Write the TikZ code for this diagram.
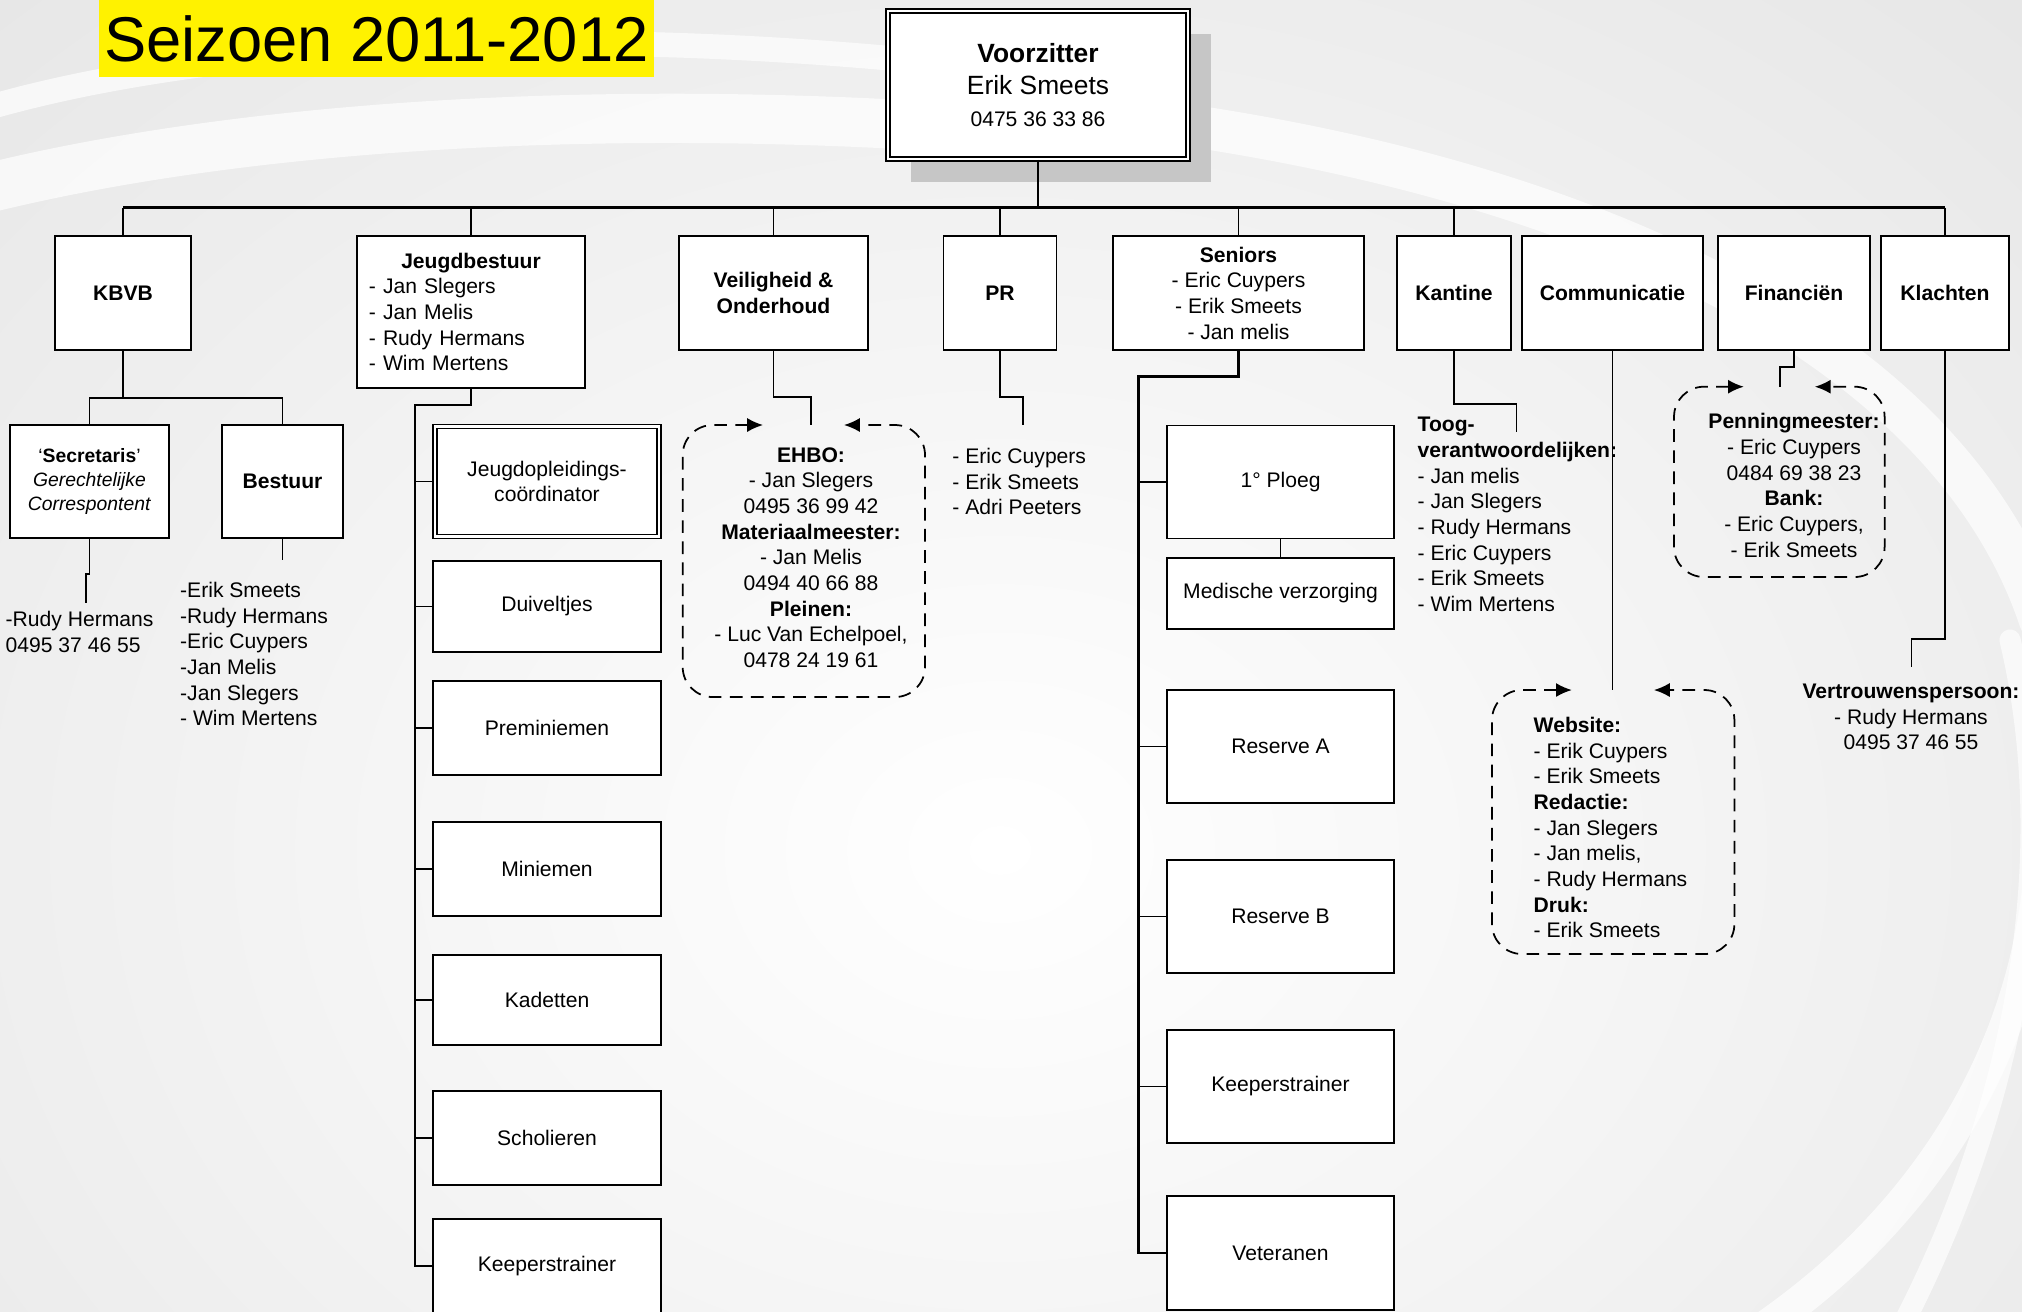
\documentclass[tikz,border=0pt]{standalone}
\usepackage{fontspec}
\setmainfont{Liberation Sans}
\usetikzlibrary{arrows.meta,shadows}
\definecolor{bggray}{HTML}{E0E0E0}
\definecolor{shadowgray}{HTML}{C6C6C6}

\begin{document}
\begin{tikzpicture}[x=0.01cm,y=-0.01cm,
  font=\fontsize{6}{7.3}\selectfont,
  box/.style={draw,fill=white,line width=0.5pt,inner sep=0pt,align=center},
  dblbox/.style={box,double,double distance=0.75pt,line width=0.45pt},
  head/.style={box,minimum height=1.14cm,font=\fontsize{6}{7.3}\selectfont\bfseries},
  conn/.style={line width=0.4pt},
  trunk/.style={line width=0.75pt},
  txt/.style={inner sep=0pt},
  dashloop/.style={line width=0.5pt,dash pattern=on 3.6pt off 2.4pt,rounded corners=0.3cm,
    {Latex[length=4.5pt,width=4pt]}-{Latex[length=4.5pt,width=4pt]}},
  swoosh/.style={white,opacity=0.7,line cap=round}]
\useasboundingbox (0,0) rectangle (2022,1311);
\clip (0,0) rectangle (2022,1311);

\fill[bggray] (0,0) rectangle (2022,1311);
\shade[inner color=white,outer color=bggray] (1000,850) ellipse (19cm and 15cm);
\draw[swoosh,line width=7pt] (-20,110) .. controls (250,30) and (700,20) .. (1150,90);
\draw[swoosh,line width=14pt] (-20,190) .. controls (300,110) and (750,100) .. (1150,145);
\draw[swoosh,line width=12pt] (1150,120) .. controls (1600,180) and (1950,350) .. (2040,620);
\draw[swoosh,line width=9pt] (2040,760) .. controls (2060,1000) and (1950,1200) .. (1760,1330);
\draw[swoosh,line width=6pt] (2010,640) .. controls (2060,850) and (2020,1100) .. (1900,1330);

\node[fill=yellow,inner sep=0pt,minimum width=5.55cm,minimum height=0.77cm,
  font=\fontsize{18}{18}\selectfont] (titel) at (376.5,38.7) {Seizoen 2011-2012};

\node[dblbox,minimum width=3cm,minimum height=1.48cm,font=\fontsize{7.5}{9}\selectfont,
  drop shadow={shadow xshift=0.23cm,shadow yshift=-0.23cm,fill=shadowgray,opacity=1}]
  (vz) at (1038,85) {\textbf{Voorzitter}\\Erik Smeets\\{\fontsize{6}{7.3}\selectfont 0475 36 33 86}};

\node[head,minimum width=1.36cm] (kbvb) at (123,293) {KBVB};
\node[box,minimum width=2.28cm,minimum height=1.52cm,text width=2.04cm,align=left] (jb) at (471,312)
  {\makebox[2.04cm][c]{\textbf{Jeugdbestuur}}\\- Jan Slegers\\- Jan Melis\\- Rudy Hermans\\- Wim Mertens};
\node[head,minimum width=1.89cm] (veil) at (773.5,293) {Veiligheid \&\\Onderhoud};
\node[head,minimum width=1.13cm] (pr) at (1000,293) {PR};
\node[box,minimum width=2.51cm,minimum height=1.14cm] (sen) at (1238.5,293)
  {\textbf{Seniors}\\- Eric Cuypers\\- Erik Smeets\\- Jan melis};
\node[head,minimum width=1.14cm] (kant) at (1454,293) {Kantine};
\node[head,minimum width=1.81cm] (comm) at (1612.5,293) {Communicatie};
\node[head,minimum width=1.52cm] (fin) at (1794,293) {Financiën};
\node[head,minimum width=1.28cm] (klacht) at (1945,293) {Klachten};

\coordinate (bus) at (0,207.6);
\draw[trunk] (vz.south) -- (vz.south |- bus);
\draw[trunk] (kbvb.north |- bus) -- (klacht.north |- bus);
\foreach \n in {kbvb,jb,veil,pr,sen,kant,klacht}
  \draw[conn] (\n.north |- bus) -- (\n.north);

\node[box,minimum width=1.59cm,minimum height=1.13cm,font=\fontsize{5.5}{6.8}\selectfont] (secr) at (89.5,481.5)
  {‘\textbf{Secretaris}’\\\textit{Gerechtelijke}\\\textit{Correspontent}};
\node[head,minimum width=1.21cm,minimum height=1.13cm] (best) at (282.5,481.5) {Bestuur};
\draw[conn] (kbvb.south) -- ++(0,47) -| (secr.north);
\draw[conn] (kbvb.south) -- ++(0,47) -| (best.north);
\node[txt,align=left,anchor=west] (secrtxt) at (5,632) {-Rudy Hermans\\0495 37 46 55};
\coordinate (secrend) at (86,603);
\draw[conn] (secr.south) -- ++(0,35) -| (secrend);
\node[txt,align=left,anchor=west] (besttxt) at (179.5,654)
  {-Erik Smeets\\-Rudy Hermans\\-Eric Cuypers\\-Jan Melis\\-Jan Slegers\\- Wim Mertens};
\coordinate (bestend) at (282.5,560);
\draw[conn] (best.south) -- (bestend);

\node[dblbox,minimum width=2.24cm,minimum height=1.1cm] (jdo) at (547,481.5) {Jeugdopleidings-\\coördinator};
\node[box,minimum width=2.28cm,minimum height=0.91cm] (duiv) at (547,606.5) {Duiveltjes};
\node[box,minimum width=2.28cm,minimum height=0.94cm] (prem) at (547,728) {Preminiemen};
\node[box,minimum width=2.28cm,minimum height=0.94cm] (mini) at (547,869) {Miniemen};
\node[box,minimum width=2.28cm,minimum height=0.9cm] (kad) at (547,1000) {Kadetten};
\node[box,minimum width=2.28cm,minimum height=0.94cm] (schol) at (547,1138) {Scholieren};
\node[box,minimum width=2.28cm,minimum height=0.94cm] (jkeep) at (547,1266) {Keeperstrainer};
\coordinate (jtop) at (415,405);
\draw[trunk] (jb.south) |- (jtop) -- (jtop |- jkeep.west) -- (jkeep.west);
\foreach \n in {jdo,duiv,prem,mini,kad,schol}
  \draw[conn] (jtop |- \n.west) -- (\n.west);

\coordinate (ehbotop) at (811,425);
\draw[conn] (veil.south) -- ++(0,46) -| (ehbotop);
\draw[dashloop] (763,425) -- (682.7,425) -- (682.7,697) -- (925,697) -- (925,425) -- (844,425);
\node[txt,align=center] (ehbo) at (811,557.5)
  {\textbf{EHBO:}\\- Jan Slegers\\0495 36 99 42\\\textbf{Materiaalmeester:}\\- Jan Melis\\0494 40 66 88\\\textbf{Pleinen:}\\- Luc Van Echelpoel,\\0478 24 19 61};

\coordinate (prend) at (1023,425);
\draw[conn] (pr.south) -- ++(0,46) -| (prend);
\node[txt,align=left,anchor=west] (prtxt) at (951.7,481.5) {- Eric Cuypers\\- Erik Smeets\\- Adri Peeters};

\node[box,minimum width=2.27cm,minimum height=1.13cm] (ploeg) at (1280.5,482) {1° Ploeg};
\node[box,minimum width=2.27cm,minimum height=0.71cm] (med) at (1280.5,593.4) {Medische verzorging};
\node[box,minimum width=2.27cm,minimum height=1.13cm] (resa) at (1280.5,746.5) {Reserve A};
\node[box,minimum width=2.27cm,minimum height=1.13cm] (resb) at (1280.5,916.5) {Reserve B};
\node[box,minimum width=2.27cm,minimum height=1.13cm] (skeep) at (1280.5,1086.5) {Keeperstrainer};
\node[box,minimum width=2.27cm,minimum height=1.14cm] (vet) at (1280.5,1253) {Veteranen};
\coordinate (stop) at (1138.5,376.5);
\draw[trunk] (sen.south) |- (stop) -- (stop |- vet.west) -- (vet.west);
\foreach \n in {ploeg,resa,resb,skeep}
  \draw[conn] (stop |- \n.west) -- (\n.west);
\draw[conn] (ploeg.south) -- (med.north);

\coordinate (kantend) at (1516.7,431.7);
\draw[conn] (kant.south) -- ++(0,53) -| (kantend);
\node[txt,align=left,anchor=west] (toog) at (1417,514.5)
  {\textbf{Toog-}\\\textbf{verantwoordelijken:}\\- Jan melis\\- Jan Slegers\\- Rudy Hermans\\- Eric Cuypers\\- Erik Smeets\\- Wim Mertens};

\coordinate (commtop) at (1612.5,690);
\draw[conn] (comm.south) -- (commtop);
\draw[dashloop] (1571.8,690) -- (1492,690) -- (1492,954) -- (1734.4,954) -- (1734.4,690) -- (1653.9,690);
\node[txt,align=left,anchor=west] (commtxt) at (1533,827.5)
  {\textbf{Website:}\\- Erik Cuypers\\- Erik Smeets\\\textbf{Redactie:}\\- Jan Slegers\\- Jan melis,\\- Rudy Hermans\\\textbf{Druk:}\\- Erik Smeets};

\coordinate (fintop) at (1780,386.7);
\draw[conn] (fin.south) -- ++(0,16) -| (fintop);
\draw[dashloop] (1743.8,386.7) -- (1674,386.7) -- (1674,577) -- (1884.6,577) -- (1884.6,386.7) -- (1814.8,386.7);
\node[txt,align=center] (fintxt) at (1794,485.5)
  {\textbf{Penningmeester:}\\- Eric Cuypers\\0484 69 38 23\\\textbf{Bank:}\\- Eric Cuypers,\\- Erik Smeets};

\coordinate (klaend) at (1911.7,666.7);
\draw[conn] (klacht.south) -- ++(0,288) -| (klaend);
\node[txt,align=center] (vertr) at (1911,717) {\textbf{Vertrouwenspersoon:}\\- Rudy Hermans\\0495 37 46 55};
\end{tikzpicture}
\end{document}
